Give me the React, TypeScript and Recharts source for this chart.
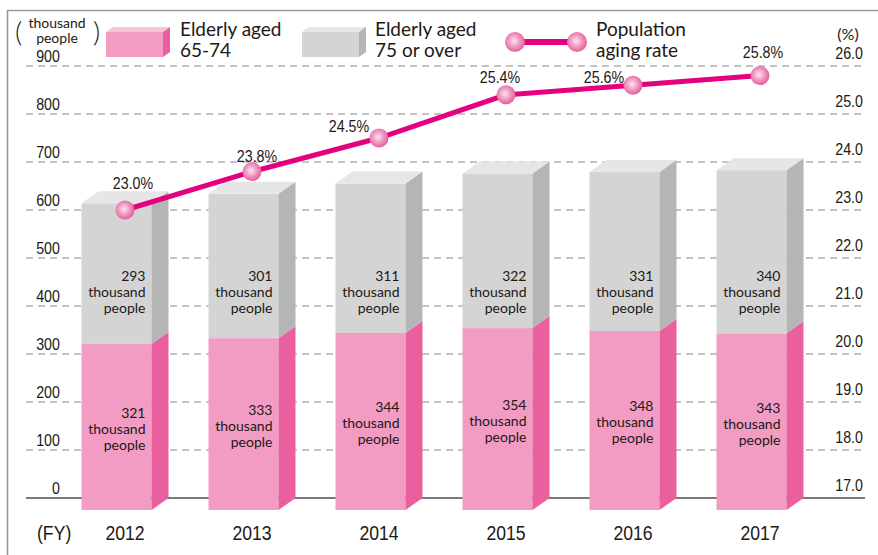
import {
  Bar,
  CartesianGrid,
  ComposedChart,
  LabelList,
  Legend,
  Line,
  XAxis,
  YAxis,
} from "recharts";

const years = ["2012", "2013", "2014", "2015", "2016", "2017"];
const aged65to74 = [321, 333, 344, 354, 348, 343];
const aged75plus = [293, 301, 311, 322, 331, 340];
const agingRate = [23.0, 23.8, 24.5, 25.4, 25.6, 25.8];

const leftTicks = [0, 100, 200, 300, 400, 500, 600, 700, 800, 900];
const rightTicks = [17, 18, 19, 20, 21, 22, 23, 24, 25, 26];
const gridValues = [100, 200, 300, 400, 500, 600, 700, 800, 900];

// nudges for the rate labels so they sit clear of the line
const rateLabelDx = [8, 5, -30, -6, -29, 3];
const rateLabelDy = [-21, -10, -6, -12, -2, -18];

const data = years.map((year, i) => ({
  year,
  young: aged65to74[i],
  old: aged75plus[i],
  rate: agingRate[i],
}));

const W = 878;
const H = 555;
const DEPTH_X = 17;
const DEPTH_Y = 12;

const NUM_FONT = '"Liberation Sans", Arial, sans-serif';
const TEXT_FONT = "Lato, 'Open Sans', sans-serif";
const INK = "#231815";

const PINK = { front: "#F29CC4", side: "#EA5F9D", top: "#F6C5DA" };
const GRAY = { front: "#D4D4D4", side: "#B4B5B5", top: "#E6E6E6" };

// condensed numerals: Liberation Sans squeezed sideways
function NarrowText({
  x,
  y,
  size,
  anchor = "middle",
  children,
}: {
  x: number;
  y: number;
  size: number;
  anchor?: "start" | "middle" | "end";
  children: any;
}) {
  return (
    <text
      transform={`translate(${x},${y}) scale(0.84,1)`}
      textAnchor={anchor}
      fontFamily={NUM_FONT}
      fontSize={size}
      fill={INK}
    >
      {children}
    </text>
  );
}

function BottomBlock(props: any) {
  const { x, y, width, height } = props;
  if (height == null || width == null) return null;
  const fw = width - DEPTH_X;
  const bottom = y + height;
  return (
    <g>
      <rect x={x} y={y} width={fw} height={height + DEPTH_Y} fill={PINK.front} />
      <polygon
        points={`${x + fw},${y} ${x + width},${y - DEPTH_Y} ${x + width},${bottom} ${x + fw},${bottom + DEPTH_Y}`}
        fill={PINK.side}
      />
    </g>
  );
}

function TopBlock(props: any) {
  const { x, y, width, height } = props;
  if (height == null || width == null) return null;
  const fw = width - DEPTH_X;
  const bottom = y + height;
  return (
    <g>
      <rect x={x} y={y} width={fw} height={height} fill={GRAY.front} />
      <polygon
        points={`${x + fw},${y} ${x + width},${y - DEPTH_Y} ${x + width},${bottom - DEPTH_Y} ${x + fw},${bottom}`}
        fill={GRAY.side}
      />
      <polygon
        points={`${x},${y} ${x + DEPTH_X},${y - DEPTH_Y} ${x + width},${y - DEPTH_Y} ${x + fw},${y}`}
        fill={GRAY.top}
      />
    </g>
  );
}

function StackText({ cx, cy, value }: { cx: number; cy: number; value: number }) {
  return (
    <text textAnchor="end" fontFamily={TEXT_FONT} fontSize={14} fill={INK}>
      <tspan x={cx} y={cy - 9}>{value}</tspan>
      <tspan x={cx} y={cy + 7}>thousand</tspan>
      <tspan x={cx} y={cy + 23}>people</tspan>
    </text>
  );
}

function youngLabel(props: any) {
  const box = props.viewBox ?? props;
  const { x, y, width, height } = box;
  const fw = width - DEPTH_X;
  return <StackText cx={x + fw - 6} cy={y + (height + DEPTH_Y) / 2} value={props.value} />;
}

function oldLabel(props: any) {
  const box = props.viewBox ?? props;
  const { x, y, width, height } = box;
  const fw = width - DEPTH_X;
  const perUnit = height / aged75plus[props.index];
  const base = y + height + aged65to74[props.index] * perUnit;
  // the source keeps these labels on one level across the bars
  return <StackText cx={x + fw - 6} cy={base - 433 * perUnit} value={props.value} />;
}

function rateLabel(props: any) {
  const { x, y, value, index } = props;
  return (
    <NarrowText x={x + rateLabelDx[index]} y={y + rateLabelDy[index]} size={17}>
      {Number(value).toFixed(1)}%
    </NarrowText>
  );
}

function RateDot(props: any) {
  const { cx, cy } = props;
  if (cx == null || cy == null) return null;
  return <circle cx={cx} cy={cy} r={9.5} fill="url(#rateDot)" />;
}

function leftTick(props: any) {
  const { y, payload } = props;
  return (
    <NarrowText x={60} y={y - 4} size={17} anchor="end">
      {payload.value}
    </NarrowText>
  );
}

function rightTick(props: any) {
  const { y, payload } = props;
  return (
    <NarrowText x={863} y={y - 7} size={17} anchor="end">
      {Number(payload.value).toFixed(1)}
    </NarrowText>
  );
}

function yearTick(props: any) {
  const { x, y, payload } = props;
  return (
    <NarrowText x={x} y={y + 42} size={21}>
      {payload.value}
    </NarrowText>
  );
}

function Box3D({ x, colors }: { x: number; colors: typeof PINK }) {
  const fw = 57;
  return (
    <g>
      <rect x={x} y={32} width={fw} height={25} fill={colors.front} />
      <polygon points={`${x},32 ${x + 7},27 ${x + fw + 7},27 ${x + fw},32`} fill={colors.top} />
      <polygon points={`${x + fw},32 ${x + fw + 7},27 ${x + fw + 7},52 ${x + fw},57`} fill={colors.side} />
    </g>
  );
}

function LegendContent() {
  const label = (x: number, a: string, b: string) => (
    <text fontFamily={TEXT_FONT} fontSize={19} fill={INK}>
      <tspan x={x} y={36}>{a}</tspan>
      <tspan x={x} y={57}>{b}</tspan>
    </text>
  );
  return (
    <svg width={W} height={66} style={{ display: "block" }}>
      <defs>
        <radialGradient id="legendDot" cx="45%" cy="45%" r="55%">
          <stop offset="0%" stopColor="#FCE6F0" />
          <stop offset="55%" stopColor="#F097C0" />
          <stop offset="100%" stopColor="#E4609E" />
        </radialGradient>
      </defs>
      <Box3D x={106} colors={PINK} />
      {label(180, "Elderly aged", "65-74")}
      <Box3D x={302} colors={GRAY} />
      {label(375, "Elderly aged", "75 or over")}
      <line x1={515} y1={42} x2={577} y2={42} stroke="#E4007F" strokeWidth={6} />
      <circle cx={515} cy={42} r={10} fill="url(#legendDot)" />
      <circle cx={577} cy={42} r={10} fill="url(#legendDot)" />
      {label(596, "Population", "aging rate")}
    </svg>
  );
}

export default function App() {
  return (
    <div style={{ position: "fixed", left: 0, top: 0, width: W, height: H, background: "#fff" }}>
      <ComposedChart
        width={W}
        height={H}
        data={data}
        margin={{ top: 66, right: 12, bottom: 0, left: 25 }}
        barSize={87}
      >
        <defs>
          <radialGradient id="rateDot" cx="45%" cy="45%" r="55%">
            <stop offset="0%" stopColor="#FCE6F0" />
            <stop offset="55%" stopColor="#F097C0" />
            <stop offset="100%" stopColor="#E4609E" />
          </radialGradient>
        </defs>
        <CartesianGrid
          yAxisId="left"
          vertical={false}
          horizontalValues={gridValues}
          stroke="#8a8a8a"
          strokeWidth={1.2}
          strokeDasharray="7 5"
        />
        <CartesianGrid
          yAxisId="left"
          vertical={false}
          horizontalValues={[0]}
          stroke="#4d4d4d"
          strokeWidth={1.4}
        />
        <XAxis
          dataKey="year"
          height={57}
          axisLine={false}
          tickLine={false}
          tickSize={0}
          tickMargin={0}
          padding={{ left: 35.5, right: 41.5 }}
          tick={yearTick}
          interval={0}
        />
        <YAxis
          yAxisId="left"
          width={1}
          domain={[0, 900]}
          ticks={leftTicks}
          axisLine={false}
          tickLine={false}
          tick={leftTick}
          interval={0}
        />
        <YAxis
          yAxisId="right"
          orientation="right"
          width={1}
          domain={[17, 26]}
          ticks={rightTicks}
          axisLine={false}
          tickLine={false}
          tick={rightTick}
          interval={0}
        />
        <Legend
          verticalAlign="middle"
          align="center"
          content={<LegendContent />}
          wrapperStyle={{ position: "absolute", top: 0, left: 0, width: W, height: 66 }}
        />
        <Bar yAxisId="left" dataKey="young" stackId="pop" shape={<BottomBlock />} isAnimationActive={false}>
          <LabelList dataKey="young" content={youngLabel} />
        </Bar>
        <Bar yAxisId="left" dataKey="old" stackId="pop" shape={<TopBlock />} isAnimationActive={false}>
          <LabelList dataKey="old" content={oldLabel} />
        </Bar>
        <Line
          yAxisId="right"
          dataKey="rate"
          stroke="#E4007F"
          strokeWidth={5}
          dot={<RateDot />}
          activeDot={false}
          isAnimationActive={false}
        >
          <LabelList dataKey="rate" content={rateLabel} />
        </Line>
      </ComposedChart>
      <svg
        width={W}
        height={H}
        style={{ position: "absolute", left: 0, top: 0, pointerEvents: "none" }}
      >
        <path d={`M7.5,${H} L7.5,10.5 L${W},10.5`} fill="none" stroke="#9a9a9a" strokeWidth={1.6} />
        <text fontFamily={TEXT_FONT} fontSize={14} fill={INK} textAnchor="middle">
          <tspan x={57} y={28}>thousand</tspan>
          <tspan x={57} y={43}>people</tspan>
        </text>
        <text x={15} y={42} fontFamily={TEXT_FONT} fontSize={28} fontWeight={300} fill={INK}>
          (
        </text>
        <text x={93} y={42} fontFamily={TEXT_FONT} fontSize={28} fontWeight={300} fill={INK}>
          )
        </text>
        <text x={848} y={40} textAnchor="middle" fontFamily={TEXT_FONT} fontSize={16} fill={INK}>
          (%)
        </text>
        <NarrowText x={37} y={540} size={21} anchor="start">
          (FY)
        </NarrowText>
      </svg>
    </div>
  );
}
